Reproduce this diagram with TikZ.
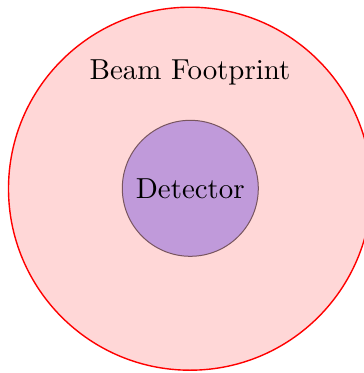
\documentclass[tikz,border=0pt]{standalone}
\definecolor{footfill}{RGB}{255,215,215}
\definecolor{detfill}{RGB}{192,154,218}
\definecolor{detline}{RGB}{120,85,95}
\newcommand{\bigtxt}[1]{\scalebox{2.89}{#1}}
\begin{document}
\begin{tikzpicture}[x=1pt,y=-1pt,
  bigtext/.style={inner sep=0pt},
  footprint/.style={draw=red, fill=footfill, line width=1.4pt},
  detector/.style={draw=detline, fill=detfill, line width=1pt}]
\useasboundingbox (0,0) rectangle (364,373);
\begin{scope}
\clip (0,0) rectangle (364,373);
\draw[footprint] (190,188.7) circle (181.5);
\end{scope}
\node[circle, detector, minimum size=136pt, inner sep=0pt] (det) at (190.3,188.3) {};
\node[bigtext] (detlabel) at (det.center) {\bigtxt{Detector}};
\node[bigtext] (beamlabel) at (190,72) {\bigtxt{Beam Footprint}};
\end{tikzpicture}
\end{document}
